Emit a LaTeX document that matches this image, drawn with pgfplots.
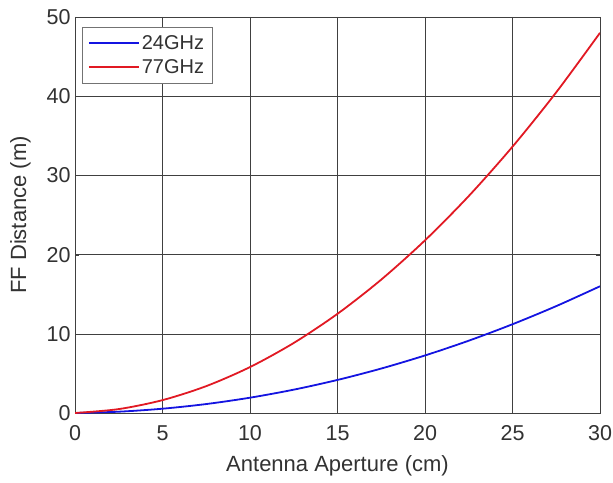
\documentclass[border=0pt]{standalone}
\usepackage{fontspec}
\setmainfont{Liberation Sans}
\usepackage{pgfplots}
\pgfplotsset{compat=1.18}
\definecolor{line24}{RGB}{20,20,225}
\definecolor{line77}{RGB}{225,25,35}
\definecolor{txtgray}{RGB}{50,50,50}
\begin{document}
\begin{tikzpicture}
\useasboundingbox (0,0) rectangle (613pt,482pt);
\begin{axis}[
  at={(75pt,69pt)},anchor=south west,
  scale only axis,
  width=525pt,height=396pt,
  xmin=0,xmax=30,ymin=0,ymax=50,
  xtick={0,5,...,30},ytick={0,10,...,50},
  grid=major,grid style={black!75,line width=0.6pt},
  axis line style={black!75,line width=0.8pt},
  tick style={black!75},
  tick align=inside,
  /pgf/number format/assume math mode=true,
  tick label style={font=\fontsize{21.5}{25}\selectfont,text=txtgray},
  xticklabel style={yshift=-9pt},
  yticklabel style={xshift=-1pt},
  label style={font=\fontsize{22}{26}\selectfont,text=txtgray},
  xlabel={Antenna Aperture (cm)},
  ylabel={FF Distance (m)},
  xlabel style={yshift=-8pt},
  ylabel style={yshift=9pt},
  legend style={font=\fontsize{20}{23}\selectfont,text=txtgray,draw=black!55,
    at={(0.013,0.975)},anchor=north west,inner xsep=6pt,inner ysep=6pt,
    row sep=5pt},
  legend cell align=left,
  legend image code/.code={\draw[#1,line width=1.8pt] (0pt,0pt) -- (50pt,0pt);},
]
\addplot[line24,line width=1.8pt,smooth] coordinates {
(0,0) (2.5,0.164) (5,0.542) (7.5,1.131) (10,1.933) (12.5,2.947) (15,4.175)
(17.5,5.614) (20,7.266) (22.5,9.130) (25,11.208) (27.5,13.497) (30,16.0)
};
\addlegendentry{24GHz}
\addplot[line77,line width=1.8pt,smooth] coordinates {
(0,0) (2.5,0.494) (5,1.625) (7.5,3.394) (10,5.8) (12.5,8.844) (15,12.525)
(17.5,16.844) (20,21.8) (22.5,27.394) (25,33.625) (27.5,40.494) (30,48.0)
};
\addlegendentry{77GHz}
\end{axis}
\end{tikzpicture}
\end{document}
